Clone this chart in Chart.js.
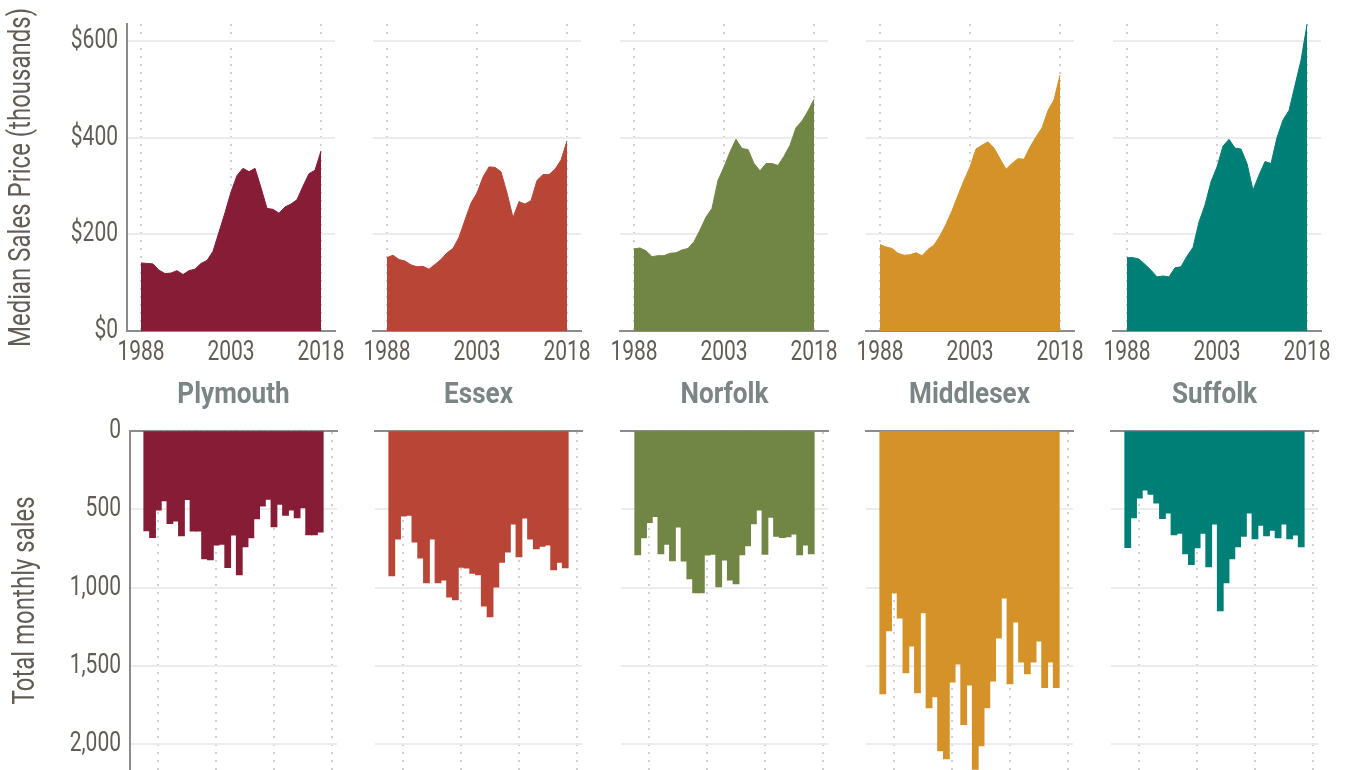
<!DOCTYPE html>
<html>
<head>
<meta charset="utf-8">
<script src="https://cdn.jsdelivr.net/npm/chart.js@4.4.1/dist/chart.umd.min.js"></script>
<style>
  html, body { margin: 0; padding: 0; background: #fff; }
  #wrap { position: relative; width: 1346px; height: 770px; overflow: hidden; }
  #wrap canvas { position: absolute; }
</style>
</head>
<body>
<div id="wrap"></div>
<script>
// ============================================================
// DATA
// ============================================================
const years = [1988, 1989, 1990, 1991, 1992, 1993, 1994, 1995, 1996, 1997, 1998,
               1999, 2000, 2001, 2002, 2003, 2004, 2005, 2006, 2007, 2008,
               2009, 2010, 2011, 2012, 2013, 2014, 2015, 2016, 2017, 2018];
const counties = ['Plymouth', 'Essex', 'Norfolk', 'Middlesex', 'Suffolk'];
const colors   = ['#861c35', '#b94537', '#718644', '#d49229', '#007f77'];

const priceTicks      = [0, 200, 400, 600];
const salesTicks      = [0, 500, 1000, 1500, 2000];
const priceYearTicks  = [1988, 2003, 2018];
const salesYearTicks  = [1990, 2000, 2010, 2020];

// median sales price, thousands of dollars
const plymouthPrice  = [141, 140, 139, 126, 119, 120, 125, 117, 125, 128, 140, 146, 165, 205, 245, 288, 322, 337, 330, 337, 297, 254, 252, 244, 257, 263, 272, 300, 326, 333, 373];
const essexPrice     = [152, 157, 148, 145, 137, 133, 134, 128, 138, 148, 162, 171, 194, 230, 265, 286, 319, 340, 339, 330, 286, 235, 268, 263, 270, 312, 324, 324, 335, 354, 394];
const norfolkPrice   = [170, 172, 166, 154, 156, 156, 161, 162, 168, 171, 185, 209, 236, 254, 312, 340, 371, 397, 378, 376, 347, 332, 347, 347, 343, 362, 385, 421, 435, 456, 480];
const middlesexPrice = [179, 174, 171, 161, 157, 158, 162, 156, 169, 178, 197, 221, 249, 281, 312, 340, 377, 385, 392, 379, 357, 335, 347, 357, 356, 381, 402, 421, 457, 479, 530];
const suffolkPrice   = [152, 152, 149, 138, 126, 112, 114, 112, 131, 133, 155, 173, 226, 261, 309, 340, 383, 397, 379, 377, 347, 292, 323, 351, 347, 401, 437, 457, 509, 561, 635];

// total monthly sales
const plymouthSales  = [638, 680, 506, 446, 591, 576, 670, 438, 640, 640, 816, 823, 729, 723, 872, 665, 918, 740, 682, 561, 480, 436, 612, 468, 538, 506, 555, 491, 663, 663, 646];
const essexSales     = [925, 691, 544, 538, 710, 812, 969, 691, 969, 952, 1061, 1078, 870, 876, 908, 918, 1118, 1186, 997, 838, 774, 595, 804, 557, 691, 753, 736, 729, 887, 838, 874];
const norfolkSales   = [791, 682, 585, 546, 784, 723, 829, 614, 831, 944, 1033, 1033, 793, 787, 995, 825, 952, 976, 791, 733, 593, 506, 787, 551, 672, 680, 676, 659, 791, 729, 784];
const middlesexSales = [1677, 1276, 1033, 1195, 1543, 1373, 1671, 1161, 1767, 1697, 2041, 2092, 1603, 1488, 1873, 1622, 2160, 2009, 1767, 1597, 1322, 1067, 1614, 1220, 1475, 1550, 1475, 1341, 1637, 1475, 1637];
const suffolkSales   = [744, 555, 429, 378, 404, 461, 559, 525, 663, 653, 784, 853, 746, 653, 867, 595, 1148, 969, 816, 740, 672, 525, 689, 602, 670, 634, 682, 595, 689, 665, 740];

const priceSeries = [plymouthPrice, essexPrice, norfolkPrice, middlesexPrice, suffolkPrice];
const salesSeries = [plymouthSales, essexSales, norfolkSales, middlesexSales, suffolkSales];

// ============================================================
// LAYOUT / STYLE
// ============================================================
const TOP_LEFT = [127, 373, 620, 866, 1113], TOP_W = 208;
const BOT_LEFT = [130, 375, 621, 866, 1111], BOT_W = 207;
const PAD = 20;
const TEXT = '#625c57', TITLE = '#7b8585', AXIS = '#8c8c8c', GRID = '#ececec', DOTS = '#d0d0d0';

Chart.defaults.font.family = "Roboto, 'Liberation Sans', sans-serif";
Chart.defaults.color = TEXT;

// no condensed face is installed, so squeeze canvas text horizontally
const condense = font => /bold/.test(font) ? 0.9 : 0.75;
const rawFill = CanvasRenderingContext2D.prototype.fillText;
const rawMeasure = CanvasRenderingContext2D.prototype.measureText;
CanvasRenderingContext2D.prototype.fillText = function (text, x, y) {
  this.save();
  this.translate(x, y);
  this.scale(condense(this.font), 1);
  rawFill.call(this, text, 0, 0);
  this.restore();
};
CanvasRenderingContext2D.prototype.measureText = function (text) {
  const m = rawMeasure.call(this, text);
  const k = condense(this.font);
  return {
    width: m.width * k,
    actualBoundingBoxAscent: m.actualBoundingBoxAscent,
    actualBoundingBoxDescent: m.actualBoundingBoxDescent,
    actualBoundingBoxLeft: m.actualBoundingBoxLeft * k,
    actualBoundingBoxRight: m.actualBoundingBoxRight * k
  };
};

const wrap = document.getElementById('wrap');

function addCanvas(left, top, w, h) {
  const cv = document.createElement('canvas');
  cv.width = w; cv.height = h;
  cv.style.left = left + 'px';
  cv.style.top = top + 'px';
  cv.style.width = w + 'px';
  cv.style.height = h + 'px';
  wrap.appendChild(cv);
  return cv;
}

function setTicks(values) {
  return scale => { scale.ticks = values.map(v => ({ value: v })); };
}

// ============================================================
// TOP ROW — median price areas
// ============================================================
function drawPrice(i) {
  const first = i === 0;
  const L = TOP_LEFT[i];
  const left = first ? 0 : L - PAD;
  const width = L + TOP_W + PAD - left;
  const cv = addCanvas(left, -10, width, 390);

  new Chart(cv, {
    type: 'line',
    data: {
      datasets: [{
        data: years.map((yr, k) => ({ x: yr, y: priceSeries[i][k] })),
        fill: 'origin', backgroundColor: colors[i], borderColor: colors[i],
        borderWidth: 1, pointRadius: 0, tension: 0
      }]
    },
    options: {
      responsive: false, animation: false, devicePixelRatio: 1,
      layout: { padding: { left: first ? 0 : PAD, right: PAD, top: 34, bottom: 5 } },
      plugins: { legend: { display: false }, tooltip: { enabled: false } },
      scales: {
        x: {
          type: 'linear', min: 1985.67, max: 2020.33,
          afterBuildTicks: setTicks(priceYearTicks),
          afterFit: s => { s.height = 44; },
          ticks: { font: { size: 28 }, padding: 5, color: TEXT, autoSkip: false, minRotation: 0, maxRotation: 0, callback: v => String(v) },
          grid: { color: DOTS, lineWidth: 2, drawTicks: false },
          border: { color: AXIS, width: 2, dash: [2, 6] }
        },
        y: {
          min: 0, max: 636,
          afterBuildTicks: setTicks(priceTicks),
          afterFit: s => { s.width = first ? L : 0; },
          ticks: { display: first, font: { size: 28 }, padding: 9, color: TEXT, callback: v => '$' + v },
          grid: { color: GRID, lineWidth: 2, drawTicks: false },
          border: { display: first, color: AXIS, width: 2 },
          title: { display: first, text: 'Median Sales Price (thousands)', font: { size: 32 }, color: TEXT, padding: { top: 3, bottom: 0 } }
        }
      }
    }
  });
}

// ============================================================
// BOTTOM ROW — monthly sales bars, hanging from zero
// ============================================================
function drawSales(i) {
  const first = i === 0;
  const L = BOT_LEFT[i];
  const left = first ? 0 : L - PAD;
  const width = L + BOT_W + PAD - left;
  // canvas runs 30px past the page so the lowest tick label never shrinks the plot
  const cv = addCanvas(left, 370, width, 430);

  new Chart(cv, {
    type: 'bar',
    data: {
      datasets: [{
        data: years.map((yr, k) => ({ x: yr, y: salesSeries[i][k] })),
        backgroundColor: colors[i], borderWidth: 0, inflateAmount: 0.5,
        barPercentage: 1, categoryPercentage: 1
      }]
    },
    options: {
      responsive: false, animation: false, devicePixelRatio: 1,
      layout: { padding: { left: first ? 0 : PAD, right: PAD, top: 0, bottom: 30 } },
      plugins: {
        legend: { display: false }, tooltip: { enabled: false },
        title: {
          display: true, text: counties[i], position: 'top', fullSize: false,
          color: TITLE, font: { size: 29, weight: 'bold' }, padding: { top: 8, bottom: 18 }
        }
      },
      scales: {
        x: {
          type: 'linear', position: 'top', offset: false, min: 1985.1, max: 2020.9,
          afterBuildTicks: setTicks(salesYearTicks),
          afterFit: s => { s.height = 0; },
          ticks: { display: false },
          grid: { color: DOTS, lineWidth: 2, drawTicks: false, offset: false },
          border: { color: AXIS, width: 2, dash: [2, 6] }
        },
        y: {
          reverse: true, min: 0, max: 2164,
          afterBuildTicks: setTicks(salesTicks),
          afterFit: s => { s.width = first ? L : 0; },
          ticks: { display: first, font: { size: 28 }, padding: 9, color: TEXT, callback: v => v.toLocaleString('en-US') },
          grid: { color: GRID, lineWidth: 2, drawTicks: false },
          border: { display: first, color: AXIS, width: 2 },
          title: { display: first, text: 'Total monthly sales', font: { size: 32 }, color: TEXT, padding: { top: 7, bottom: 0 } }
        }
      }
    }
  });
}

counties.forEach((c, i) => { drawPrice(i); drawSales(i); });
</script>
</body>
</html>
